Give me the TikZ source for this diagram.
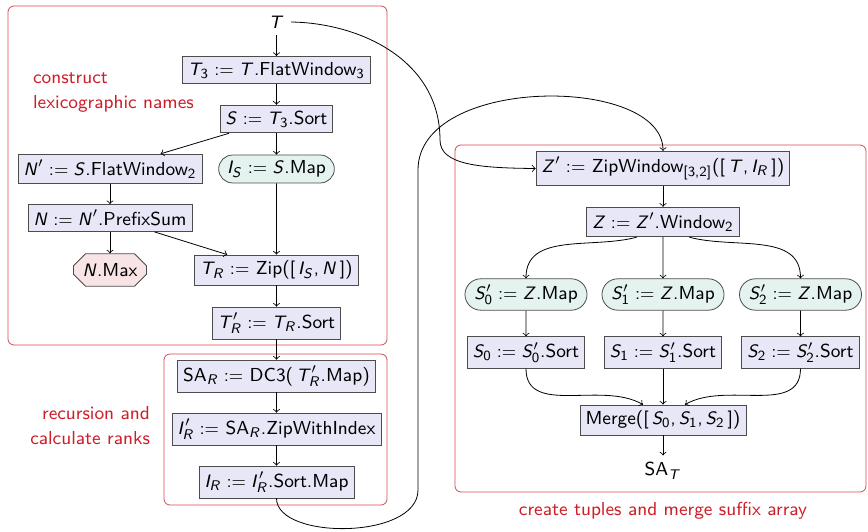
\documentclass[tikz,border=0pt]{standalone}
\usetikzlibrary{shapes.misc}

% sans serif maths, slanted letters
\DeclareSymbolFont{operators}{OT1}{cmss}{m}{n}
\DeclareSymbolFont{letters}{OT1}{cmss}{m}{sl}
\mathcode`\,="602C

\definecolor{stagered}{RGB}{205,30,40}
\definecolor{opfill}{RGB}{231,231,248}
\definecolor{mapfill}{RGB}{228,243,240}
\definecolor{maxfill}{RGB}{248,228,228}

\tikzset{
  op/.style={draw=black!70, fill=opfill, inner sep=2.8pt},
  mapop/.style={op, rounded rectangle, fill=mapfill},
  maxop/.style={op, chamfered rectangle, inner xsep=0.5pt,
    chamfered rectangle xsep=4pt, chamfered rectangle ysep=2pt, fill=maxfill},
  stage/.style={draw=stagered!80, rounded corners=3pt},
  stagelabel/.style={text=stagered}
}

\begin{document}
\begin{tikzpicture}[x=0.5pt,y=0.5pt,font=\sffamily\fontsize{9.4}{12.5}\selectfont]
\useasboundingbox (0,0) rectangle (868,-531);
% stages
\draw [stage] (8,-6) rectangle (387,-345);
\draw [stage] (164,-354) rectangle (387,-505);
\draw [stage] (455,-145) rectangle (866,-492);
\node [stagelabel, anchor=west, align=left] (lexnote) at (26,-93) {construct\\lexicographic names};
\node [stagelabel, anchor=east, align=right] (recnote) at (157,-426) {recursion and\\calculate ranks};
\node [stagelabel] (mergenote) at (663,-511) {create tuples and merge suffix array};
% lexicographic names
\node (T) at (276.5,-22) {$T$};
\node [op] (T3) at (276.5,-70) {$T_3 := T$.FlatWindow$_3$};
\node [op] (S) at (276.5,-119) {$S := T_3$.Sort};
\node [op] (Np) at (110,-169) {$N' := S$.FlatWindow$_2$};
\node [mapop] (IS) at (276.5,-169) {$I_S := S$.Map};
\node [op] (N) at (110,-218) {$N := N'$.PrefixSum};
\node [maxop] (NMax) at (110,-270) {$N$.Max};
\node [op] (TR) at (276.5,-270) {$T_R :=$ Zip($[\,I_S, N\,]$)};
\node [op] (TRp) at (276.5,-323) {$T'_R := T_R$.Sort};
% recursion
\node [op] (SAR) at (276.5,-376) {SA$_R :=$ DC3($\,T'_R$.Map)};
\node [op] (IRp) at (276.5,-429) {$I'_R :=$ SA$_R$.ZipWithIndex};
\node [op] (IR) at (276.5,-482) {$I_R := I'_R$.Sort.Map};
% tuples and merge
\node [op] (Zp) at (663,-168.5) {$Z' :=$ ZipWindow$_{[3,2]}$($[\,T, I_R\,]$)};
\node [op] (Z) at (663,-222) {$Z := Z'$.Window$_2$};
\node [mapop] (S0p) at (526,-294.5) {$S'_0 := Z$.Map};
\node [mapop] (S1p) at (663,-294.5) {$S'_1 := Z$.Map};
\node [mapop] (S2p) at (800.5,-294.5) {$S'_2 := Z$.Map};
\node [op] (S0) at (526,-352.5) {$S_0 := S'_0$.Sort};
\node [op] (S1) at (663,-352.5) {$S_1 := S'_1$.Sort};
\node [op] (S2) at (800.5,-352.5) {$S_2 := S'_2$.Sort};
\node [op] (Merge) at (663,-420) {Merge($[\,S_0, S_1, S_2\,]$)};
\node (SAT) at (663,-471) {SA$_T$};
% connectors
\draw [->] (T) -- (T3);
\draw [->] (T3) -- (S);
\draw [->] (S) -- (Np);
\draw [->] (S) -- (IS);
\draw [->] (Np) -- (N);
\draw [->] (N) -- (NMax);
\draw [->] (N) -- (TR);
\draw [->] (IS) -- (TR);
\draw [->] (TR) -- (TRp);
\draw [->] (TRp) -- (SAR);
\draw [->] (SAR) -- (IRp);
\draw [->] (IRp) -- (IR);
\draw [->] (IR.south) .. controls (276.5,-540) and (418,-540) .. (418,-490)
  -- (418,-170) .. controls (418,-75) and (663,-75) .. (Zp.north);
\draw [->] (T.east) .. controls (360,-23) and (440,-60) .. (440,-140)
  .. controls (440,-165) and (480,-168) .. (Zp.west);
\draw [->] (Zp) -- (Z);
\draw [->] (Z.-150) to[out=-165,in=90] (S0p.north);
\draw [->] (Z) -- (S1p);
\draw [->] (Z.-30) to[out=-15,in=90] (S2p.north);
\draw [->] (S0p) -- (S0);
\draw [->] (S1p) -- (S1);
\draw [->] (S2p) -- (S2);
\draw [->] (S0.south) to[out=-90,in=150] ([xshift=-10pt]Merge.north);
\draw [->] (S1) -- (Merge);
\draw [->] (S2.south) to[out=-90,in=30] ([xshift=11pt]Merge.north);
\draw [->] (Merge) -- (SAT);
\end{tikzpicture}
\end{document}
